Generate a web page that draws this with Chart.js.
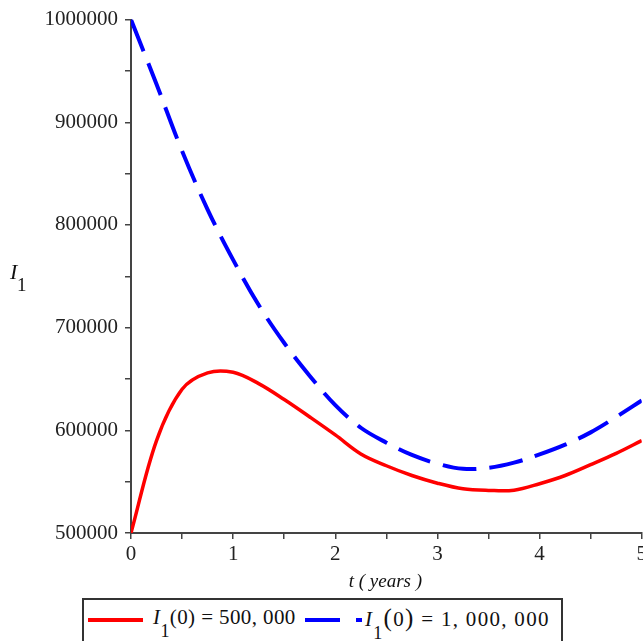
<!DOCTYPE html>
<html>
<head>
<meta charset="utf-8">
<script src="https://cdn.jsdelivr.net/npm/chart.js@4/dist/chart.umd.min.js"></script>
<style>
html,body{margin:0;padding:0;background:#fff;overflow:hidden;width:643px;height:641px;}
#wrap{position:relative;width:643px;height:641px;overflow:hidden;background:#fff;}
#c{position:absolute;left:0;top:0;}
.leg{position:absolute;left:82px;top:598px;width:481px;height:60px;border:2px solid #333;box-sizing:border-box;background:#fff;}
.sw{position:absolute;height:4px;}
.txt{position:absolute;font-family:"Liberation Serif",serif;font-size:21px;line-height:21px;color:#111;white-space:nowrap;}
.txt i{font-style:italic;}
.txt sub{font-size:18px;vertical-align:-13px;line-height:0;}
.txt .p{font-size:25px;}
</style>
</head>
<body>
<div id="wrap">
<canvas id="c" width="650" height="641" style="width:650px;height:641px"></canvas>
<div class="leg"></div>
<div class="sw" style="left:88px;top:618px;width:55px;background:#ff0000;"></div>
<div class="txt" style="left:153px;top:607px;letter-spacing:0.4px;"><i>I</i><sub>1</sub>(0) = 500, 000</div>
<div class="sw" style="left:305px;top:618px;width:35px;background:#0000ff;"></div>
<div class="sw" style="left:356px;top:618px;width:6px;background:#0000ff;"></div>
<div class="txt" style="left:365px;top:607px;letter-spacing:1.3px;"><i>I</i><sub>1</sub><span class="p">(</span>0<span class="p">)</span> = 1, 000, 000</div>
</div>
<script>
// ---- data ----
const tValues   = [0, 0.25, 0.5, 0.75, 1.0, 1.25, 1.5, 1.75, 2.0, 2.25, 2.5, 2.75, 3.0, 3.25, 3.5, 3.75, 4.0, 4.25, 4.5, 4.75, 5.0];
const seriesRed = [500000, 590000, 640000, 656000, 656500, 645500, 630000, 613000, 595500, 577000, 565500, 556000, 548500, 543000, 541500, 541700, 548000, 556000, 566500, 577500, 590000];
const seriesBlue = [1000000, 937000, 872000, 815000, 766000, 722000, 685000, 653000, 624500, 602500, 588000, 576000, 567500, 562500, 563500, 568500, 576500, 586000, 598000, 613000, 629000];
const xTickLabels = [0, 1, 2, 3, 4, 5];
const yTickLabels = [500000, 600000, 700000, 800000, 900000, 1000000];
const redLabel = "I\u2081(0) = 500, 000";
const blueLabel = "I\u2081(0) = 1, 000, 000";

const serif = "'Liberation Serif', 'Times New Roman', serif";

const titlesPlugin = {
  id: 'titles',
  beforeDraw(chart) {
    const ctx = chart.ctx;
    ctx.save();
    ctx.fillStyle = '#fff';
    ctx.fillRect(0, 0, chart.width, chart.height);
    ctx.restore();
  },
  afterDraw(chart) {
    const ctx = chart.ctx;
    const a = chart.chartArea;
    ctx.save();
    ctx.fillStyle = '#111';
    ctx.textBaseline = 'alphabetic';
    // y title I_1
    ctx.font = 'italic 22px ' + serif;
    ctx.textAlign = 'left';
    ctx.fillText('I', 10, 279);
    ctx.font = '19px ' + serif;
    ctx.fillText('1', 17, 291);
    // x title
    ctx.font = 'italic 19px ' + serif;
    ctx.textAlign = 'center';
    ctx.fillText('t ( years )', (a.left + a.right) / 2 - 1, 587);
    ctx.restore();
  }
};

const ctx = document.getElementById('c').getContext('2d');
new Chart(ctx, {
  type: 'line',
  data: {
    datasets: [
      {
        label: redLabel,
        data: tValues.map((t, i) => ({x: t, y: seriesRed[i]})),
        borderColor: '#ff0000',
        borderWidth: 3.5,
        pointRadius: 0,
        fill: false,
        tension: 0.35
      },
      {
        label: blueLabel,
        data: tValues.map((t, i) => ({x: t, y: seriesBlue[i]})),
        borderColor: '#0000ff',
        borderWidth: 4,
        borderDash: [34, 13],
        pointRadius: 0,
        fill: false,
        tension: 0.35
      }
    ]
  },
  options: {
    responsive: false,
    animation: false,
    layout: {padding: {left: 0, top: 17, right: 8, bottom: 68}},
    plugins: {legend: {display: false}, tooltip: {enabled: false}},
    scales: {
      x: {
        type: 'linear', min: 0, max: 5,
        ticks: {
          stepSize: 0.5, autoSkip: false, maxRotation: 0, padding: 3,
          callback: v => xTickLabels.includes(v) ? String(v) : '',
          font: {family: serif, size: 21}, color: '#222'
        },
        grid: {drawOnChartArea: false, drawTicks: true, tickLength: 6, color: '#444', lineWidth: 1.5},
        border: {display: true, color: '#444', width: 2},
        afterFit(s) { s.height = 40; }
      },
      y: {
        type: 'linear', min: 500000, max: 1000000,
        ticks: {
          stepSize: 50000, autoSkip: false, padding: 7,
          callback: v => yTickLabels.includes(v) ? String(v) : '',
          font: {family: serif, size: 21}, color: '#222'
        },
        grid: {drawOnChartArea: false, drawTicks: true, tickLength: 6, color: '#444', lineWidth: 1.5},
        border: {display: true, color: '#444', width: 2},
        afterFit(s) { s.width = 131; }
      }
    }
  },
  plugins: [titlesPlugin]
});
</script>
</body>
</html>
